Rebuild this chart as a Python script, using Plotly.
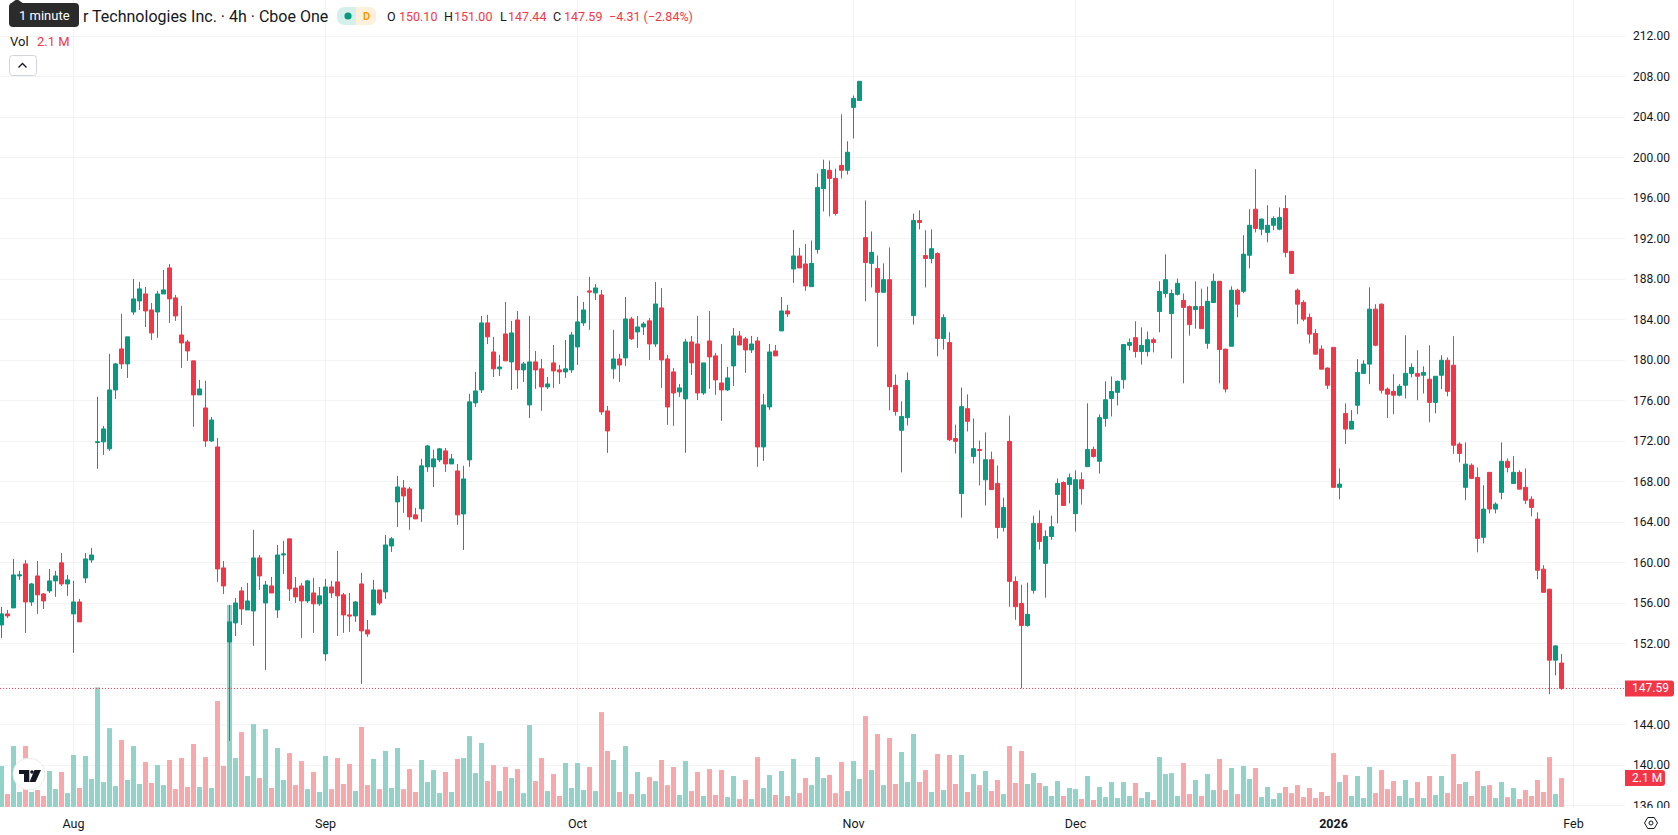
import plotly.graph_objects as go

# 4h bars, oldest first
high = [155.64,155.34,160.38,159.20,160.28,158.01,160.18,157.02,159.39,159.20,
160.97,158.80,158.21,156.43,160.97,161.47,176.38,173.52,180.63,179.74,
184.58,182.31,188.03,187.74,187.24,185.66,186.85,188.92,189.51,186.45,
185.37,182.01,179.94,178.06,177.96,174.40,172.33,160.18,155.84,156.53,
157.61,158.01,163.25,160.77,158.21,158.60,161.76,162.16,162.36,158.60,
158.01,158.31,158.50,157.61,158.40,158.21,161.17,157.02,157.02,156.23,
159.00,154.35,158.31,157.32,162.75,162.55,168.58,168.18,167.49,165.42,
170.26,171.64,171.15,171.34,171.34,170.75,169.76,169.57,176.68,178.85,
184.38,184.48,182.31,180.53,185.76,183.89,184.87,179.84,184.38,180.92,
180.13,178.35,181.51,179.54,182.01,182.80,186.35,185.76,188.23,187.54,
186.95,175.49,183.00,180.63,186.25,184.28,184.38,183.79,184.18,187.74,
187.14,180.53,179.24,177.66,182.11,182.40,184.38,179.74,184.87,180.72,
181.61,179.34,183.19,182.90,182.31,182.40,182.31,176.68,181.61,181.51,
186.25,185.47,192.87,191.10,191.49,191.83,198.44,199.81,199.73,198.93,
204.29,201.63,206.14,207.55,195.78,192.72,190.34,189.57,191.14,178.60,
175.94,178.81,194.49,194.81,192.84,192.92,190.66,184.53,182.76,173.64,
177.31,176.63,174.25,172.07,172.88,170.98,169.61,166.43,174.53,158.65,
157.84,158.04,164.65,165.18,163.20,164.65,168.32,168.04,168.81,169.13,
168.93,175.74,171.47,174.65,177.92,178.40,178.00,181.55,182.15,183.85,
183.24,182.84,182.23,187.80,190.46,186.99,188.08,186.59,185.42,187.80,
187.07,187.27,188.56,187.80,181.10,187.30,187.06,192.35,194.92,198.87,
194.00,195.31,194.22,195.10,196.30,190.76,187.09,185.93,184.62,183.07,
181.48,179.30,181.27,169.32,175.74,175.07,180.11,180.00,187.20,185.54,
185.61,177.32,178.63,177.64,182.47,179.69,180.99,179.40,181.48,178.42,
180.50,180.28,182.37,171.89,171.89,169.81,169.42,167.66,168.93,165.97,
171.89,170.30,170.52,169.14,169.32,166.57,164.98,159.76,157.43,151.86,
151.00]

low = [152.58,154.55,155.54,158.31,153.07,155.74,154.95,155.44,157.02,156.63,
157.71,156.73,151.10,154.16,158.01,159.99,169.27,170.65,171.05,176.18,
179.15,178.26,184.48,184.97,183.29,182.01,182.21,186.55,183.69,183.89,
179.24,179.94,173.42,176.58,171.44,171.94,158.11,156.92,142.40,152.77,
153.86,155.34,151.79,157.32,149.42,157.02,154.55,158.90,156.23,156.03,
152.58,156.03,153.07,155.74,150.30,156.53,152.77,153.07,153.17,154.16,
148.03,152.68,154.85,155.84,156.43,161.07,163.54,164.92,163.25,164.33,
164.04,168.97,167.49,169.96,168.97,169.76,163.74,161.27,169.47,175.39,
176.77,181.61,178.35,178.45,179.94,177.07,177.17,177.86,174.30,177.17,
175.00,177.17,177.27,177.66,178.26,178.75,179.54,183.39,183.00,185.96,
174.60,170.85,178.16,177.86,179.44,182.01,181.22,182.50,180.03,181.32,
177.27,173.62,173.52,176.38,170.85,178.55,176.08,176.58,177.17,176.58,
174.01,176.97,177.46,181.51,178.75,180.72,169.47,170.06,175.10,180.43,
182.90,184.28,187.64,189.12,186.85,187.27,190.54,194.69,194.21,194.29,
197.96,198.36,201.91,205.66,185.82,187.19,181.35,186.71,175.06,174.53,
168.93,173.56,183.52,192.92,187.19,189.57,180.38,181.06,172.03,170.78,
164.45,172.96,169.81,167.64,165.66,167.23,162.40,163.08,155.66,154.37,
147.60,153.69,156.95,161.31,156.55,162.27,163.89,165.66,165.86,163.08,
165.74,169.49,170.38,168.81,173.44,174.45,175.54,177.19,180.98,180.26,
179.57,180.38,180.78,182.76,186.18,180.18,186.39,177.72,182.43,183.12,
183.12,181.14,185.70,177.72,176.82,181.38,184.24,186.63,189.07,192.63,
192.35,191.64,192.84,192.84,190.16,188.57,183.56,183.85,181.66,180.60,
179.12,177.15,167.45,166.28,171.72,173.20,174.68,178.70,177.64,181.38,
176.72,174.29,174.68,176.44,176.23,178.31,176.05,176.72,173.87,174.75,
177.15,176.44,170.76,169.92,166.18,168.26,161.03,161.91,164.87,164.87,
166.28,168.93,167.83,167.27,165.79,164.59,158.38,157.08,147.02,148.89,
147.44]

open_ = [153.86,154.95,155.54,158.70,159.89,156.13,158.70,156.92,157.22,158.21,
159.99,157.91,154.95,156.13,158.50,160.28,171.87,171.94,171.25,177.07,
181.12,179.64,184.77,185.86,186.55,184.97,184.77,186.55,189.12,186.16,
182.50,181.81,179.94,176.58,175.29,172.03,171.44,159.49,152.18,154.06,
157.22,155.34,155.24,160.48,156.03,157.71,155.34,160.77,162.36,157.51,
157.71,156.23,157.02,155.94,151.00,157.61,158.11,156.83,154.85,154.75,
157.91,153.37,154.85,157.32,157.12,161.66,166.01,167.39,167.29,164.73,
165.32,169.47,169.47,170.16,171.05,169.76,169.07,164.82,170.16,175.79,
177.07,183.69,180.82,179.15,182.60,179.84,183.98,179.05,175.59,179.84,
179.15,177.37,179.74,179.05,178.85,179.05,181.32,183.69,186.85,186.65,
186.45,175.00,179.15,180.13,180.23,184.08,182.80,183.29,183.89,181.61,
185.17,180.13,178.85,176.87,176.18,181.81,181.61,176.77,181.91,180.43,
177.76,177.07,179.44,182.40,182.11,181.02,181.91,171.44,175.39,180.92,
182.90,184.87,189.02,190.30,189.51,187.27,190.94,196.95,198.76,197.96,
199.25,198.76,204.97,205.66,192.11,189.57,189.05,186.71,187.96,177.52,
173.08,174.33,184.41,193.80,190.34,190.05,190.54,182.15,181.75,172.27,
166.83,175.22,170.50,171.19,168.20,170.18,167.84,163.48,171.99,158.16,
155.98,153.81,157.28,163.89,159.94,162.60,166.75,167.92,167.72,164.85,
168.20,169.49,171.19,170.02,174.25,176.23,176.83,178.08,181.47,182.23,
180.86,180.86,182.03,184.81,186.59,184.61,186.51,185.90,185.30,185.01,
185.30,181.67,185.70,187.80,181.10,181.38,186.92,186.81,190.37,194.92,
192.95,192.63,193.33,192.95,194.99,190.76,186.92,185.72,184.24,182.65,
181.10,179.23,181.27,167.45,174.75,173.20,175.56,178.70,179.62,185.05,
185.54,177.15,176.93,176.55,177.53,178.70,178.70,178.52,178.13,175.84,
178.52,180.00,179.51,171.72,167.45,169.63,168.43,162.51,168.93,165.30,
166.95,170.02,167.83,168.93,167.45,166.28,164.31,159.37,157.39,150.38,
150.10]

close = [154.95,154.75,158.80,158.80,156.13,157.91,156.83,156.23,158.21,158.70,
157.91,158.31,156.13,154.16,160.38,160.77,171.94,173.22,177.07,179.64,
179.64,182.31,186.06,187.05,184.87,182.70,186.55,186.95,186.06,184.38,
181.71,180.92,176.58,177.17,172.03,174.10,159.39,157.71,154.16,156.03,
155.44,156.23,160.48,158.70,157.81,157.02,160.77,160.87,157.42,156.63,
156.23,158.21,155.94,156.73,157.61,157.02,156.73,154.85,154.75,156.13,
153.27,152.97,157.32,156.03,161.76,162.36,167.49,166.60,164.53,164.33,
169.57,171.54,170.26,171.25,169.76,170.26,164.73,168.28,175.89,176.97,
183.69,182.31,179.15,179.34,179.94,182.70,179.05,179.64,179.84,179.05,
177.37,177.66,178.95,178.85,179.15,182.50,183.79,184.97,186.75,187.14,
174.90,173.02,180.13,179.54,184.08,182.11,183.29,183.59,181.61,185.56,
180.03,175.39,176.77,177.27,181.81,179.74,176.77,179.74,180.33,178.06,
177.07,178.26,182.40,181.51,181.02,181.61,171.44,175.59,180.82,180.43,
184.87,184.58,190.30,189.12,187.34,189.57,197.07,198.84,197.96,194.49,
198.76,200.54,205.86,207.55,189.65,190.66,186.71,187.96,177.39,174.94,
174.45,178.00,193.80,193.60,190.05,191.02,182.15,184.21,172.15,171.99,
175.42,173.97,171.27,171.10,170.18,167.23,163.48,165.46,158.16,155.66,
153.81,154.90,163.89,162.11,162.60,163.56,167.84,165.66,168.40,168.20,
167.31,171.19,170.50,174.33,176.10,176.91,177.92,181.55,181.75,180.86,
181.47,182.03,181.75,186.79,187.96,186.59,187.60,185.22,183.52,185.30,
183.12,185.82,187.80,181.06,177.15,186.92,185.54,190.48,193.33,193.02,
193.94,193.33,194.00,194.11,190.65,188.57,185.54,184.06,182.58,180.60,
179.12,177.53,167.45,167.77,173.20,173.97,178.80,179.62,185.05,181.48,
177.04,176.65,176.55,177.43,178.70,179.30,178.42,178.80,175.84,178.42,
180.00,176.93,171.61,170.80,169.74,168.33,162.40,165.30,165.30,165.79,
170.02,169.42,168.93,167.27,166.18,165.47,159.26,157.08,150.38,151.79,
147.59]

# share volume per bar, in millions
volume = [2.97,0.94,4.42,1.09,4.42,1.09,1.23,0.80,2.61,1.30,
2.54,1.01,3.77,1.38,3.70,2.03,8.67,1.81,5.72,1.52,
4.86,1.96,4.42,1.67,3.26,1.74,3.04,1.59,3.41,1.30,
3.55,1.45,4.57,1.45,3.62,1.38,7.68,2.97,14.64,3.55,
5.43,2.25,6.01,2.10,5.65,1.38,4.28,1.96,3.91,1.59,
3.33,1.30,2.54,1.09,3.70,1.30,3.55,1.67,3.12,1.16,
5.80,1.59,3.48,1.30,4.06,1.38,4.28,1.30,2.75,1.09,
3.41,1.81,2.68,1.01,2.54,1.09,3.48,3.55,5.14,2.46,
4.64,1.88,3.04,1.16,2.90,2.10,2.75,1.01,5.94,1.88,
3.55,1.16,2.39,0.80,3.19,1.38,3.19,1.23,2.90,1.16,
6.88,4.06,3.41,1.09,4.42,0.94,2.54,0.94,2.17,1.88,
3.41,1.59,2.90,0.87,3.33,1.16,2.54,0.80,2.75,0.87,
2.68,0.72,2.25,0.58,1.96,0.58,3.62,1.38,2.32,0.87,
2.61,0.80,3.48,1.01,2.10,1.59,3.62,2.10,2.32,1.01,
3.26,1.16,3.33,2.03,6.59,2.68,5.29,1.59,5.00,1.67,
3.99,1.81,5.29,1.81,2.68,1.09,3.84,1.23,3.77,1.67,
3.77,1.09,2.39,1.59,2.61,1.16,1.96,0.94,4.42,1.74,
4.06,1.67,2.46,1.74,1.52,0.80,1.88,0.80,1.38,1.30,
0.58,2.25,0.51,1.45,0.72,1.81,0.65,1.81,0.80,1.74,
0.65,1.09,0.51,3.62,2.39,2.46,0.80,3.19,0.94,1.96,
0.80,2.39,1.23,3.48,1.23,2.83,0.94,2.97,2.03,2.83,
0.72,1.45,0.58,1.01,1.45,1.01,1.59,0.72,1.38,0.65,
1.09,0.80,3.91,1.81,2.32,0.80,2.25,0.65,2.90,1.01,
2.68,1.30,1.88,0.80,1.96,0.65,1.81,0.65,2.25,0.87,
2.25,1.01,3.84,1.67,1.81,0.80,2.61,1.52,1.59,0.65,
1.81,0.72,1.38,0.58,1.23,0.80,1.96,1.09,3.62,0.94,
2.10]

month_ticks = [12, 54, 96, 142, 179, 222, 262]
month_labels = ["Aug", "Sep", "Oct", "Nov", "Dec", "<b>2026</b>", "Feb"]
price_ticks = list(range(136, 216, 4))

# change of the last bar, as printed in the legend
last_change = -4.31
last_pct = -2.84

UP = "#089981"
DOWN = "#F23645"
UP_VOL = "#92d2c9"
DOWN_VOL = "#f7a8aa"
INK = "#131722"
GRID = "#f2f3f5"
FONT = "Roboto"

# layout of the page, in pixels
W, H = 1678, 835
PLOT_W, PLOT_H = 1625, 808
bars = list(range(len(close)))


def fx(px):
    return px / PLOT_W


def fy(py):
    return 1 - py / PLOT_H


def path_shape(points, fill=None, line=None, width=1, tail=" Z"):
    d = "M " + " L ".join(f"{fx(x):.5f} {fy(y):.5f}" for x, y in points) + tail
    return dict(type="path", xref="paper", yref="paper", path=d, layer="above",
                fillcolor=fill or "rgba(0,0,0,0)",
                line=dict(color=line or "rgba(0,0,0,0)", width=width))


def round_rect(x0, y0, x1, y1, r, fill=None, line=None):
    d = (f"M {fx(x0 + r)} {fy(y0)} L {fx(x1 - r)} {fy(y0)} Q {fx(x1)} {fy(y0)} {fx(x1)} {fy(y0 + r)} "
         f"L {fx(x1)} {fy(y1 - r)} Q {fx(x1)} {fy(y1)} {fx(x1 - r)} {fy(y1)} "
         f"L {fx(x0 + r)} {fy(y1)} Q {fx(x0)} {fy(y1)} {fx(x0)} {fy(y1 - r)} "
         f"L {fx(x0)} {fy(y0 + r)} Q {fx(x0)} {fy(y0)} {fx(x0 + r)} {fy(y0)} Z")
    return dict(type="path", xref="paper", yref="paper", path=d, layer="above",
                fillcolor=fill or "rgba(0,0,0,0)",
                line=dict(color=line or "rgba(0,0,0,0)", width=1))


def circle(cx, cy, r, fill=None, line=None):
    return dict(type="circle", xref="paper", yref="paper", layer="above",
                x0=fx(cx - r), x1=fx(cx + r), y0=fy(cy + r), y1=fy(cy - r),
                fillcolor=fill or "rgba(0,0,0,0)",
                line=dict(color=line or "rgba(0,0,0,0)", width=1))


def tag_shape(yref, value, width):
    # value tag on the price scale: square on the left, rounded on the right
    d = (f"M 0 8 L {width - 3} 8 Q {width} 8 {width} 5 L {width} -5 "
         f"Q {width} -8 {width - 3} -8 L 0 -8 Z")
    return dict(type="path", xref="paper", yref=yref, xsizemode="pixel", ysizemode="pixel",
                xanchor=1, yanchor=value, path=d, layer="above", fillcolor=DOWN,
                line=dict(color=DOWN, width=0))


def text(px, py, s, size=13, color=INK, anchor="left", **kw):
    return dict(xref="paper", yref="paper", x=fx(px), y=fy(py), text=s, showarrow=False,
                xanchor=anchor, yanchor="middle", borderpad=0,
                font=dict(family=FONT, size=size, color=color), **kw)


fig = go.Figure()

fig.add_trace(go.Bar(
    x=bars, y=volume, yaxis="y",
    marker=dict(color=[UP_VOL if c >= o else DOWN_VOL for o, c in zip(open_, close)],
                line=dict(width=0)),
    hoverinfo="skip",
))

fig.add_trace(go.Candlestick(
    x=bars, open=open_, high=high, low=low, close=close, yaxis="y2",
    increasing=dict(line=dict(color=UP, width=1), fillcolor=UP),
    decreasing=dict(line=dict(color=DOWN, width=1), fillcolor=DOWN),
    whiskerwidth=0, hoverinfo="skip",
))

last_volume = volume[-1]

shapes = [
    # last price line across the chart
    dict(type="line", xref="paper", yref="y2", x0=0, x1=1, y0=close[-1], y1=close[-1],
         layer="above", line=dict(color=DOWN, width=1, dash="1px,2px")),
    # masks the price scale where the time scale begins
    dict(type="rect", xref="paper", yref="paper", x0=1, x1=fx(W), y0=fy(H), y1=fy(PLOT_H),
         layer="above", fillcolor="white", line=dict(width=0)),
    tag_shape("y2", close[-1], 49),
    tag_shape("y", last_volume, 40),

    # status pill beside the symbol
    round_rect(337, 7, 376, 25, 8, fill="#d5f0eb"),
    dict(type="path", xref="paper", yref="paper", layer="above", fillcolor="#fff0dc",
         line=dict(width=0),
         path=(f"M {fx(356)} {fy(7)} L {fx(368)} {fy(7)} Q {fx(376)} {fy(7)} {fx(376)} {fy(15)} "
               f"L {fx(376)} {fy(17)} Q {fx(376)} {fy(25)} {fx(368)} {fy(25)} L {fx(356)} {fy(25)} Z")),
    circle(348, 16, 3.6, fill=UP),

    # collapse button
    round_rect(9.5, 55.5, 36.5, 75.5, 3, fill="white", line="#d1d4dc"),
    path_shape([(18.5, 67.5), (22.5, 63.5), (26.5, 67.5)], line=INK, width=1.3, tail=""),

    # tooltip over the legend
    round_rect(9, 3, 79, 27, 4, fill="#2b2b2b"),
    path_shape([(10, 4), (17, -1), (24, 4)], fill="#2b2b2b"),

    # logo badge
    circle(29, 774, 16, fill="white", line="#ececec"),
    path_shape([(19, 770), (29.3, 770), (29.3, 782), (24, 782), (24, 774), (19, 774)], fill="#131722"),
    circle(32, 772, 1.8, fill="#131722"),
    path_shape([(34.5, 770), (41, 770), (35.5, 782), (29.5, 782)], fill="#131722"),

    # settings icon
    path_shape([(1644.5, 823), (1647.8, 817.5), (1654.2, 817.5), (1657.5, 823),
                (1654.2, 828.5), (1647.8, 828.5)], line=INK, width=1),
    circle(1651, 823, 2, line=INK),
]

annotations = [
    text(329, 16.5, "r Technologies Inc. · 4h · Cboe One", size=16, anchor="right"),
    text(366, 16, "<b>D</b>", size=11, color="#ff9800", anchor="center"),
    text(386, 16.5, "O", size=12.5),
    text(397.5, 16.5, f"{open_[-1]:.2f}", size=12.5, color=DOWN),
    text(443, 16.5, "H", size=12.5),
    text(453.5, 16.5, f"{high[-1]:.2f}", size=12.5, color=DOWN),
    text(499, 16.5, "L", size=12.5),
    text(507, 16.5, f"{low[-1]:.2f}", size=12.5, color=DOWN),
    text(552, 16.5, "C", size=12.5),
    text(562.5, 16.5, f"{close[-1]:.2f}", size=12.5, color=DOWN),
    text(607.5, 16.5, f"−{abs(last_change):.2f} (−{abs(last_pct):.2f}%)", size=12.5, color=DOWN),
    text(9, 41, "Vol", size=13),
    text(36, 41, f"{last_volume:.1f} M", size=13, color=DOWN),
    text(44, 15.5, "1 minute", size=13, color="white", anchor="center"),
    # value tags on the scale
    dict(xref="paper", yref="y2", x=fx(1631), y=close[-1], text=f"{close[-1]:.2f}", showarrow=False,
         xanchor="left", yanchor="middle", borderpad=0, font=dict(family=FONT, size=12, color="white")),
    dict(xref="paper", yref="y", x=fx(1631), y=last_volume, text=f"{last_volume:.1f} M", showarrow=False,
         xanchor="left", yanchor="middle", borderpad=0, font=dict(family=FONT, size=12, color="white")),
]

# the 148 line keeps its grid but the last-price tag takes its label's place
price_labels = ["" if v == 148 else f"{v:.2f}" for v in price_ticks]

fig.update_layout(
    width=W, height=H, autosize=False,
    margin=dict(l=0, r=W - PLOT_W, t=0, b=H - PLOT_H, pad=0),
    paper_bgcolor="white", plot_bgcolor="white",
    showlegend=False, dragmode=False, hovermode=False,
    bargap=1 / 6, boxgap=1 / 3, boxgroupgap=0,
    font=dict(family=FONT, size=13, color=INK),
    xaxis=dict(
        type="linear", range=[-0.25, 270.583],
        tickmode="array", tickvals=month_ticks, ticktext=month_labels,
        showgrid=True, gridcolor=GRID, gridwidth=1, zeroline=False, showline=False,
        ticks="", ticklabelstandoff=6, rangeslider=dict(visible=False),
        tickfont=dict(family=FONT, size=12.5, color=INK),
    ),
    yaxis=dict(range=[-0.07, 58.48], visible=False, showgrid=False, zeroline=False),
    yaxis2=dict(
        overlaying="y", side="right", range=[135.78, 215.58],
        tickmode="array", tickvals=price_ticks, ticktext=price_labels,
        showgrid=True, gridcolor=GRID, gridwidth=1, zeroline=False, showline=False,
        ticks="", ticklabelstandoff=7,
        tickfont=dict(family=FONT, size=12, color=INK),
    ),
    shapes=shapes, annotations=annotations,
)

fig.write_html("out.html", config=dict(displayModeBar=False))
